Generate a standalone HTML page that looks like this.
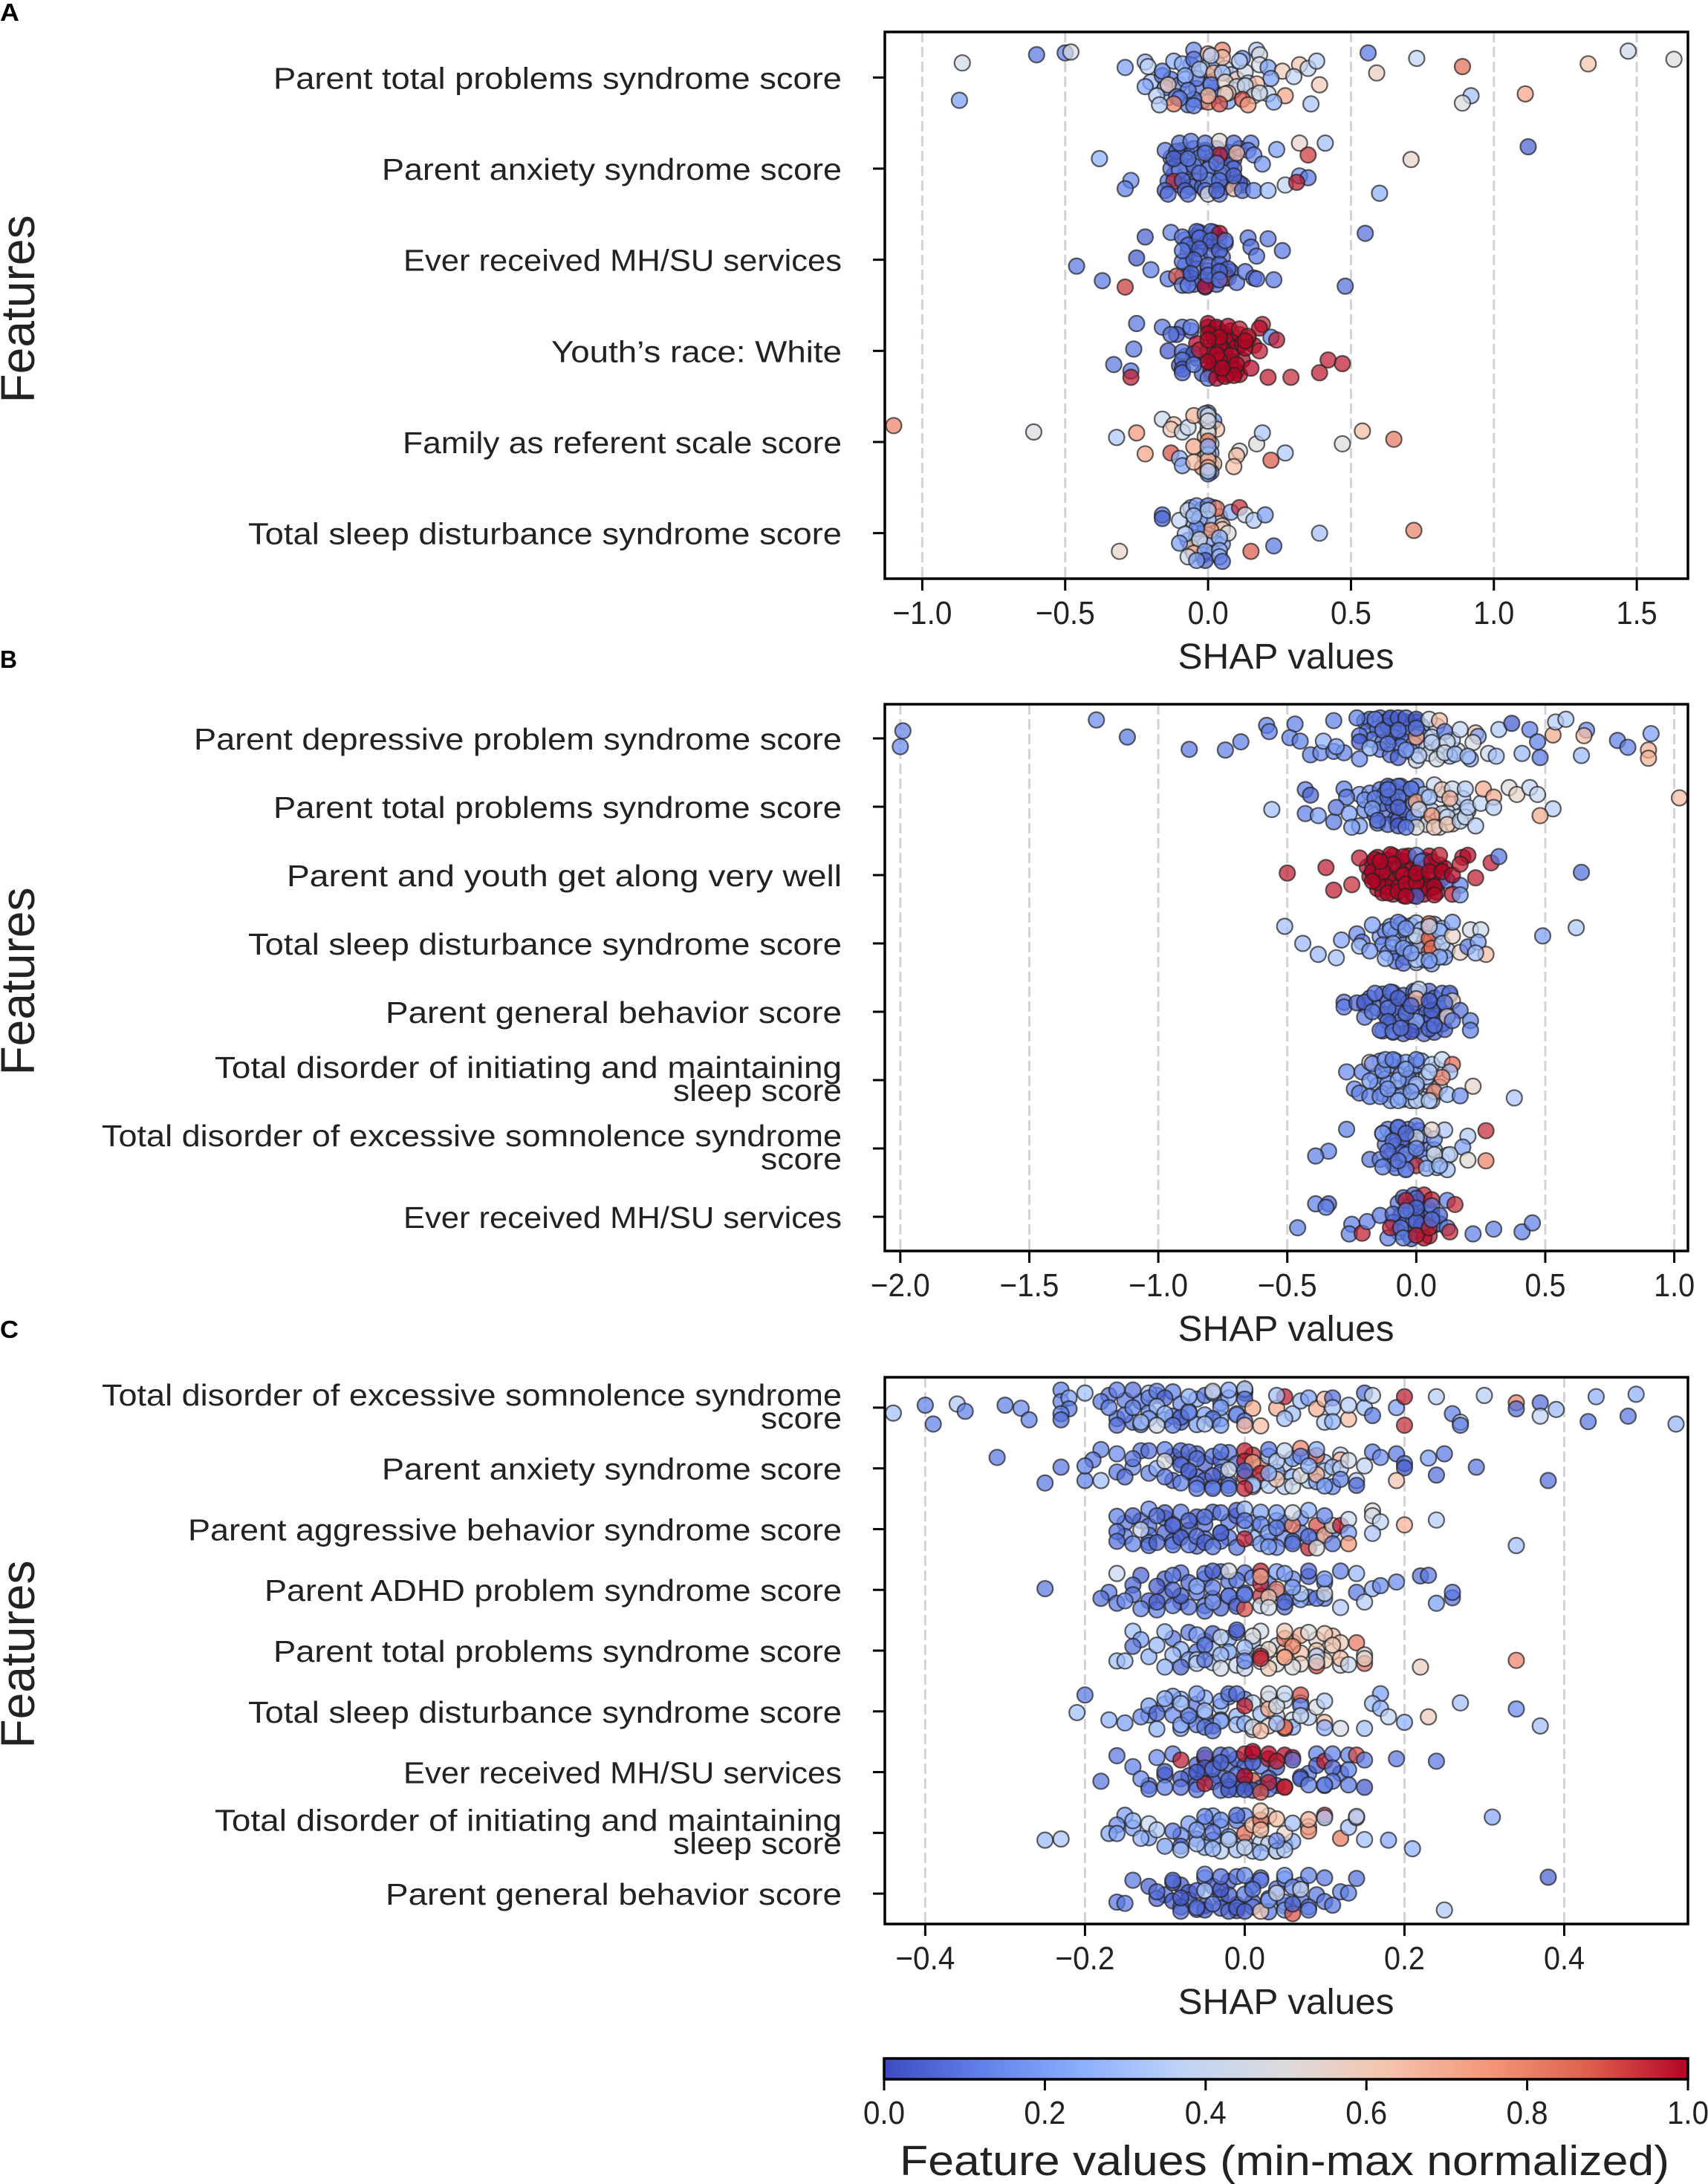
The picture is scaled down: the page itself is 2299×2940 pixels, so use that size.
<!DOCTYPE html>
<html lang="en">
<head>
<meta charset="utf-8">
<title>SHAP value strip plots</title>
<style>
html,body{margin:0;padding:0;background:#fff;}
svg{display:block;font-family:"Liberation Sans",sans-serif;}
text{fill:#222;}
</style>
</head>
<body>
<svg id="chart" xmlns="http://www.w3.org/2000/svg" width="2299" height="2940" viewBox="0 0 2299 2940">
  <rect x="0" y="0" width="2299" height="2940" fill="#ffffff"/>
  <text x="0" y="28" font-size="33" font-weight="bold" textLength="26" lengthAdjust="spacingAndGlyphs" style="fill:#000">A</text>
  <text x="0" y="899" font-size="33" font-weight="bold" textLength="23" lengthAdjust="spacingAndGlyphs" style="fill:#000">B</text>
  <text x="0" y="1801" font-size="33" font-weight="bold" textLength="25" lengthAdjust="spacingAndGlyphs" style="fill:#000">C</text>
</svg>
<script>
// ---------- Panel A data ----------
const categoriesA = ["Parent total problems syndrome score","Parent anxiety syndrome score","Ever received MH/SU services","Youth\u2019s race: White","Family as referent scale score","Total sleep disturbance syndrome score"];
const ticksA = [-1,-0.5,0,0.5,1,1.5];
const domainA = [-1.131,1.679];
const shapA = [
[-.86,-.6,-.5,-.48,-.87,-.29,-.22,-.21,-.16,-.12,-.09,-.05,0,.05,.05,.01,-.05,.12,.11,.17,.18,.18,.21,.26,.32,.35,.38,.3,.22,.39,.17,-.22,-.15,-.14,-.18,-.08,-.03,.02,.05,.01,.06,.1,.13,.07,.06,.16,.21,.18,.27,.12,.14,0,.04,0,-.05,-.07,-.11,-.1,-.12,-.17,-.05,.23,.36,.59,.56,.73,.89,1.33,1.47,1.63,.92,.89,1.11],
[-.38,-.27,-.29,-.15,-.11,-.1,-.06,-.01,.04,.04,.09,.15,.14,.1,.24,.32,.41,.35,.16,.19,-.01,-.13,-.1,-.05,0,.09,.05,-.12,-.09,0,.04,.11,.32,.35,.27,.31,.71,1.12,.6,-.15,-.14,-.08,-.07,-.01,0,.04,.03,.09,.12,.16,.21,-.03,-.12,-.07,.03,.09],
[-.22,-.13,-.09,-.04,.01,.04,.14,.21,.15,.26,.17,.55,-.25,-.46,-.37,-.29,-.2,-.14,-.11,-.09,-.07,-.01,.06,.1,.13,.16,.17,.23,.48,-.07,-.03,.01,-.03,.04,-.09,-.05,0,.04,.07,-.06,0,.04,-.09,.06,.04],
[-.25,-.16,-.09,-.06,-.11,-.13,0,.03,.07,.11,.19,.18,.14,.22,.24,0,-.04,.04,.13,.18,-.26,-.14,-.09,-.05,0,.08,-.09,.04,.1,.15,.42,.47,.39,.21,.29,-.33,-.27,-.27,-.09,-.09,-.05,.01,0,.03,.06,.09,-.03,.04,.03,0,.05,.13,0],
[-1.1,-.61,-.32,-.25,-.22,-.16,-.12,-.13,-.13,-.09,-.07,-.05,-.01,.02,.03,0,0,0,-.05,-.1,-.09,-.05,0,0,0,0,.11,.1,.09,.17,.19,.27,.22,.47,.54,.65,0,0,0],
[-.16,-.16,-.1,-.07,-.04,0,.03,.08,.11,.13,.16,.2,0,-.03,.05,.07,.01,-.04,-.08,-.03,.04,-.1,.23,.15,.39,.72,-.31,-.05,-.07,-.01,.04,.04,-.01,.05,-.04,0,-.05]
];
const jitterA = [
[-.16,-.25,-.27,-.28,.25,-.11,-.17,-.12,-.07,-.18,-.15,-.3,-.26,-.3,-.22,-.24,-.2,-.21,-.18,-.3,-.25,-.14,-.11,-.07,-.14,-.1,-.18,-.01,.01,.08,.07,.1,.11,.08,.2,-.02,-.09,-.05,-.05,.08,.05,.1,.09,.17,.18,.2,.18,.17,.2,.24,.3,.27,.29,.2,.24,.14,.21,.23,.29,.3,.31,.27,.29,-.05,-.27,-.21,-.12,-.15,-.29,-.2,.2,.28,.18],
[-.11,.13,.22,-.2,-.19,-.28,-.3,-.28,-.3,-.15,-.28,-.28,-.2,-.17,-.21,-.28,-.28,-.15,-.15,-.05,-.17,0,.02,-.03,.01,0,.04,.14,.13,.13,.13,.16,.08,.1,.18,.15,-.1,-.24,.27,.24,.28,.24,.28,.24,.28,.28,.24,.22,.24,.24,.24,.05,-.11,-.11,-.06,.08],
[-.25,-.3,-.25,-.31,-.31,-.29,-.24,-.23,-.14,-.1,-.04,-.29,-.02,.07,.23,.3,.11,.21,.18,.28,.28,.29,.2,.25,.13,.2,.21,.22,.29,-.16,-.24,-.21,-.12,-.1,.02,0,.06,.05,.1,.15,.17,.13,-.1,-.21,.22],
[-.3,-.26,-.26,-.26,-.18,-.18,-.3,-.26,-.27,-.24,-.29,-.25,-.16,-.15,-.12,-.19,-.08,-.07,-.03,0,-.02,0,.01,.03,0,.05,.1,.1,.15,.19,.1,.14,.24,.29,.29,.15,.22,.29,.2,.24,.15,.22,.3,.3,.28,.27,-.01,-.15,.04,.12,.19,-.11,-.12],
[-.18,-.11,-.05,-.1,.13,-.25,-.19,.12,-.14,-.11,-.16,-.29,-.31,-.23,-.14,-.15,-.1,-.01,.05,.18,.26,.22,.14,.2,.28,.32,.1,.15,.27,.02,-.1,.12,.2,.02,-.12,-.03,-.29,-.23,.05],
[-.2,-.16,-.14,-.25,-.3,-.3,-.27,-.23,-.28,-.2,-.14,-.2,-.15,-.16,-.04,0,-.03,-.05,.01,.07,.05,.11,.14,.2,0,-.03,.2,.22,.26,.2,.19,.26,.3,.31,.3,-.25,-.19]
];
const featureA = [
[.45,.1,.12,.47,.2,.2,.27,.38,.13,.25,.25,.15,.7,.8,.65,.35,.1,.15,.35,.33,.47,.47,.2,.6,.62,.38,.35,.38,.2,.6,.65,.22,.15,.6,.35,.25,.35,.68,.3,.1,.55,.42,.42,.65,.55,.5,.4,.42,.72,.9,.75,.8,.9,.65,.1,.12,.15,.1,.8,.33,.12,.25,.32,.58,.1,.38,.85,.62,.43,.5,.3,.48,.72],
[.25,.15,.12,.12,.05,.1,.1,.1,.52,.97,.08,.12,.1,.65,.2,.55,.3,.93,.15,.17,.1,.08,.15,.08,.15,.08,.1,.95,.05,.18,.08,.05,.18,.1,.38,.97,.55,.05,.25,.05,.08,.05,.1,.1,.47,.1,.05,.65,.08,.15,.28,.08,.05,.1,.1,.05],
[.05,.12,.12,.05,.08,1,.1,.1,.08,.1,.1,.08,.03,.1,.1,.93,.12,.1,.88,.1,.1,1,.93,.1,.1,.05,.1,.1,.08,.08,.08,.05,.05,.05,.1,.05,.08,.05,.05,.05,.08,.05,.1,.1,.08],
[.1,.1,.08,.15,.03,.08,1,1,1,.97,.95,1,.97,.12,.97,1,1,1,1,.97,.1,.03,.08,.03,1,1,.1,1,1,1,.97,.97,.97,.97,.95,.1,.1,.97,.03,.08,.1,1,.12,1,1,1,.97,1,1,1,1,1,1],
[.8,.48,.33,.75,.72,.42,.62,.9,.6,.42,.42,.68,.3,.2,.62,.47,.5,.82,.72,.25,.22,.65,.45,.72,.68,.35,.48,.65,.63,.5,.32,.33,.88,.48,.65,.82,.47,.47,.25],
[.1,.05,.38,.42,.2,.1,.82,.25,.95,.42,.33,.2,.32,.25,.6,.48,.75,.15,.3,.45,.25,.2,.1,.88,.3,.8,.55,.7,.42,.25,.25,.28,.05,.08,.2,.35,.3]
];
const denseShapA = [
[-.2,-.16,-.13,-.1,-.08,-.06,-.04,-.02,0,.02,.03,.06,.08,.1,.13,.15,-.14,-.07,-.02,.03,.09,.14,-.04,.01,.07],
[-.13,-.11,-.09,-.07,-.05,-.03,-.01,.01,.03,.05,.07,.09,.11,-.12,-.08,-.04,0,.04,.08,.12,-.1,-.06,-.02,.02,.06,.1,-.14,-.07,.01,.08],
[-.08,-.06,-.04,-.02,0,.02,.04,.06,-.07,-.03,.01,.05,-.08,-.04,0,.04,.08,-.06,-.02,.02,.06,-.09,-.05,-.01,.03,.07,-.03,.02],
[0,.01,.02,.03,.04,.05,.06,.07,.08,.09,.1,.11,.12,.14,.16,0,.02,.04,.06,.08,.1,.12,.01,.03,.05,.07,.09,.11,-.06,-.08,-.04,-.1,-.02],
[0,-.01,.01,0,-.01,.01,0,.01,-.01,0,.01,-.02,.02,0,.01,0],
[-.06,-.04,-.02,0,.02,.04,-.05,-.03,-.01,.01,.03,.05,-.07,-.04,-.01,.02,.05,-.06,-.02,.02]
];
const denseJitterA = [
[.05,-.02,.02,.08,.02,-.14,.12,-.08,-.12,.15,-.16,-.1,-.03,.02,-.06,.12,.22,.3,.26,.2,.14,.06,.01,.06,.26],
[-.12,-.05,-.2,-.15,-.22,-.12,-.2,-.08,-.22,-.14,-.18,-.1,-.22,.07,.08,.14,.06,.07,.16,.18,.18,.2,.2,.18,.2,.14,.14,-.02,-.04,-.04],
[-.22,-.18,-.26,-.2,-.24,-.17,-.23,-.18,-.08,-.04,-.08,-.03,.06,.1,.12,.12,.13,.2,.24,.22,.16,.18,.27,.3,.27,.2,-.3,-.3],
[-.26,-.2,-.14,-.24,-.1,-.2,-.16,-.08,-.22,-.14,-.04,-.18,-.08,-.14,-.06,.06,.1,.16,.02,.12,.22,.1,.26,.24,.08,.26,.2,.26,-.22,.06,.08,.16,.25],
[-.32,-.26,-.2,-.12,-.06,.02,.08,.12,.17,.22,.25,.28,.24,.3,.33,.35],
[-.28,-.22,-.26,-.2,-.28,-.18,-.12,-.08,-.05,-.1,-.12,-.08,.08,.05,.12,.1,.12,.16,.24,.22]
];
const denseFeatureA = [
[.3,.15,.1,.15,.25,.12,.1,.15,.35,.1,.3,.4,.35,.6,.45,.4,.3,.12,.1,.15,.55,.35,.1,.15,.2],
[.08,.05,.1,.05,.08,.12,.05,.08,.05,.1,.05,.08,.12,.05,.08,.05,.1,.05,.08,.1,.05,.08,.05,.1,.05,.08,.1,.05,.08,.05],
[.05,.08,.05,.1,.05,.08,.05,.08,.05,.08,.05,.1,.05,.08,.05,.08,.1,.05,.08,.05,.1,.05,.08,.05,.05,.1,.08,.05],
[1,1,1,1,1,1,1,1,1,1,1,1,1,1,1,1,1,1,1,1,1,1,1,1,1,1,1,1,.05,.05,.05,.05,.05],
[.1,.4,.3,.5,.6,.45,.7,.3,.65,.55,.7,.8,.6,.2,.12,.1],
[.25,.3,.2,.15,.35,.8,.3,.3,.1,.25,.4,.6,.2,.15,.25,.3,.22,.65,.1,.15]
];

// ---------- Panel B data ----------
const categoriesB = ["Parent depressive problem syndrome score","Parent total problems syndrome score","Parent and youth get along very well","Total sleep disturbance syndrome score","Parent general behavior score","Total disorder of initiating and maintaining|sleep score","Total disorder of excessive somnolence syndrome|score","Ever received MH/SU services"];
const ticksB = [-2,-1.5,-1,-0.5,0,0.5,1];
const domainB = [-2.06,1.053];
const shapB = [
[-1.99,-2,-1.24,-1.12,-.88,-.74,-.68,-.58,-.57,-.47,-.49,-.45,-.41,-.37,-.36,-.32,-.32,-.28,-.31,-.23,-.22,-.22,-.22,-.16,-.18,-.13,-.11,-.1,-.07,-.04,0,0,0,-.07,-.07,0,.01,-.04,.05,.09,.11,.06,.12,.08,.11,.17,.23,.24,.22,.15,.21,.2,.28,.31,.32,.37,.44,.47,.48,.41,.53,.54,.58,.66,.65,.64,.78,.82,.91,.9,.9],
[-.43,-.41,-.28,-.27,-.56,-.43,-.38,-.32,-.31,-.26,-.22,-.25,-.2,-.16,-.17,-.15,-.11,-.07,-.02,-.11,-.07,-.07,-.07,-.01,0,.01,0,.06,.07,.1,.14,.19,.13,.05,.12,.07,.12,.17,.19,.2,.25,.23,.26,.3,.3,.36,.39,.44,.47,.53,.48,1.02,-.11,-.04],
[-.5,-.35,-.25,-.32,-.22,-.16,-.17,-.15,-.11,-.07,-.1,-.05,-.09,-.13,-.05,0,.02,-.04,0,0,.06,.09,.18,.2,.29,.32,.23,.12,.17,.07,.14,.17,0,.05,.1,.64,-.04,.07,-.14,-.17,.14,.17],
[-.51,-.44,-.38,-.31,-.29,-.23,-.21,-.22,-.18,-.17,-.1,-.07,-.09,-.05,-.12,-.05,0,0,.05,.05,.06,.09,.1,.14,.14,.21,.25,.17,.2,.24,.27,.23,.09,.05,.49,.62,-.04,-.02,.05],
[-.28,-.28,-.23,-.2,-.16,-.1,0,.01,0,.1,.13,.14,.11,.17,.21,.21,.12,.06,0,-.04,-.11,-.2,-.17,-.11,-.14,-.09,-.02,.05,.07,.14,-.06,.05,-.07,-.02],
[-.27,-.21,-.18,-.17,-.13,-.18,-.24,-.22,-.18,-.14,-.12,-.09,-.07,-.07,0,0,0,.06,.1,.14,.13,.1,.07,.05,.22,.12,.17,.38,.05,-.04,-.02,-.11],
[-.27,-.34,-.39,-.18,-.14,-.13,-.07,0,0,-.04,-.09,.07,.11,.2,.06,.18,.27,.2,.27,.13,.07,.12,0,-.04,-.11,-.13,-.04,.04,-.07,0,.09],
[-.39,-.34,-.35,-.46,-.25,-.26,-.21,-.19,-.14,-.09,-.11,-.1,-.06,-.05,0,-.04,.06,.06,.12,.15,0,.09,.12,.13,.22,.3,.41,.45,.03,0,.05,0,-.04,.06]
];
const jitterB = [
[-.11,.12,-.27,-.02,.16,.17,.05,-.19,-.1,-.21,-.01,.04,.24,.21,.04,-.26,.19,.21,.12,-.3,.3,-.04,.05,-.28,.14,-.12,.08,-.3,-.3,-.3,-.28,-.02,-.15,-.12,.28,.32,.25,.17,-.28,-.26,-.1,.06,.05,.3,.21,-.13,-.08,-.03,.06,.23,.3,.26,.22,.26,-.13,-.22,-.13,.05,.28,.22,-.05,-.24,-.28,-.12,-.04,.25,.03,.13,-.07,.17,.29],
[-.25,-.17,-.26,-.14,.04,.1,.13,.22,.01,.1,.28,.3,-.1,-.12,.03,.2,-.3,-.3,-.26,-.14,-.14,.01,.28,.15,-.07,.04,.3,.13,-.32,-.25,-.26,-.26,-.12,-.14,.15,.3,.26,.21,.15,.01,-.05,.28,-.26,-.14,.01,-.28,-.18,-.28,-.18,.03,.13,-.13,-.25,.3],
[-.03,-.11,.14,.22,-.25,-.23,-.05,.11,.26,.24,-.3,-.27,-.16,-.05,0,-.29,-.2,.13,.11,-.03,-.2,-.29,-.26,-.29,-.18,-.27,.04,.08,.15,.17,.28,.29,.31,-.05,-.05,-.04,.31,.29,-.2,.09,0,-.16],
[-.25,0,.16,.21,-.05,-.14,-.02,.04,.11,-.27,-.2,-.31,0,.07,.22,.29,-.11,.24,-.29,-.07,.07,-.18,0,-.11,-.31,-.2,-.2,.13,.05,-.02,.16,.14,.2,.25,-.11,-.23,-.22,.14,-.25],
[-.14,-.07,-.13,-.14,-.27,-.29,-.29,-.33,-.19,-.27,-.27,-.16,-.13,-.02,.13,.27,.07,-.02,.14,.02,-.05,.08,0,.14,.27,.29,.29,.25,.2,.13,.24,-.16,-.2,-.09],
[-.12,-.12,-.26,-.24,-.14,.01,.13,.19,.24,.24,-.3,-.3,0,.3,-.3,.06,.3,-.23,-.3,-.23,-.12,-.04,.17,-.12,.09,.21,.23,.26,.3,-.16,.17,.13],
[-.28,.04,.11,.16,.16,-.22,-.31,-.33,-.16,-.22,-.11,-.14,-.27,-.18,-.27,-.02,-.26,.17,.18,.09,.09,.31,.25,.09,.04,.27,.31,.29,.18,0,.25],
[-.19,-.19,-.14,.16,.11,.25,.24,.07,-.02,-.04,.31,.16,.16,.31,-.27,-.24,-.25,-.16,-.24,-.18,.07,-.02,.16,.22,.25,.18,.22,.09,.31,.27,.16,-.13,-.09,.04]
];
const featureB = [
[.12,.15,.15,.1,.1,.12,.12,.12,.12,.12,.12,.12,.12,.15,.25,.12,.12,.12,.2,.12,.15,.1,.03,.12,.25,.08,.1,.05,.05,.05,.02,.75,.1,.1,.05,.4,.35,.2,.42,.65,.1,.35,.42,.45,.42,.38,.6,.2,.48,.3,.25,.3,.42,.3,.33,.03,.12,.12,.1,.28,.7,.35,.33,.15,.65,.28,.12,.12,.2,.68,.68],
[.12,.05,.12,.1,.3,.12,.2,.1,.08,.2,.2,.2,.18,.12,.2,.08,.05,.08,.1,.05,.08,.05,.03,.15,.75,.4,.5,.75,.4,.6,.4,.35,.68,.3,.4,.6,.6,.35,.42,.35,.38,.35,.7,.7,.35,.5,.55,.38,.4,.35,.7,.65,.1,.1],
[.97,.97,.95,.97,.97,1,1,1,1,1,1,1,1,1,1,.1,.1,1,1,1,1,.97,.97,1,.97,.1,.97,.1,.12,1,.97,.2,.05,1,1,.08,1,1,1,1,1,.97],
[.3,.28,.28,.3,.22,.15,.1,.3,.2,.2,.2,.15,.2,.2,.25,.08,.38,.33,.85,.85,.85,.25,.35,.55,.2,.45,.42,.55,.1,.2,.65,.3,.25,.2,.2,.33,.2,.2,.4],
[.1,.1,.05,.05,.08,.08,.2,.4,.65,.08,.1,.55,.1,.08,.12,.12,.55,.05,.25,.08,.08,.1,.1,.05,.1,.1,.03,.05,.08,.1,.08,.05,.05,.05],
[.15,.12,.55,.15,.15,.2,.15,.12,.12,.15,.2,.12,.22,.25,.12,.3,.35,.35,.38,.85,.3,.8,.8,.33,.55,.3,.15,.32,.35,.2,.2,.2],
[.12,.12,.12,.1,.12,.2,.08,.1,.45,.08,.08,.15,.32,.33,.55,.2,.95,.52,.8,.38,.45,.3,.95,.15,.08,.12,.12,.25,.1,.15,.28],
[.12,.05,.12,.12,.12,.12,.97,.12,.1,.05,.12,.97,.08,.12,.05,.97,.97,.1,.12,.95,.05,.05,.12,.95,.12,.12,.12,.12,1,.97,.97,.05,.1,.08]
];
const denseShapB = [
[-.2,-.18,-.16,-.14,-.12,-.1,-.08,-.06,-.04,-.02,0,.02,-.19,-.15,-.11,-.07,-.03,.01,-.17,-.13,-.09,-.05,-.01,-.14,-.1,-.06,-.02,.04,.08,.12,.16,.06,.1,.14,.05,.09,.13],
[-.22,-.18,-.14,-.12,-.1,-.08,-.06,-.04,-.02,0,-.2,-.16,-.12,-.08,-.04,-.15,-.11,-.07,-.03,.01,-.13,-.09,-.05,-.01,.03,.06,.1,.14,.18,.08,.12,.16,.04,.09,.14,.2,.1],
[-.19,-.17,-.15,-.13,-.11,-.09,-.07,-.05,-.03,-.01,.01,.03,.05,.07,.09,.11,-.18,-.16,-.14,-.12,-.1,-.08,-.06,-.04,-.02,0,.02,.04,.06,.08,.1,-.15,-.13,-.11,-.09,-.07,-.05,-.03,-.01,.01,.03,.05,.08],
[-.14,-.12,-.1,-.08,-.06,-.04,-.02,0,.02,.04,.07,.1,-.13,-.09,-.05,-.01,.03,.08,-.11,-.07,-.03,.01,.05,.09,.12,-.08,-.04,0,.03,.06,.11],
[-.2,-.18,-.15,-.13,-.11,-.09,-.07,-.05,-.03,-.01,.01,.03,.05,.07,.09,.11,.13,-.12,-.08,-.04,0,.04,.08,.12,-.1,-.06,-.02,.02,.06,.1,-.13,-.09,-.05,-.01,.03,.07,.11],
[-.16,-.14,-.12,-.1,-.08,-.06,-.04,-.02,0,.02,-.15,-.11,-.07,-.03,.01,.05,-.13,-.09,-.05,-.01,.03,.07,.09,-.1,-.06,-.02,.02,.06,-.03,0,.04,.08],
[-.13,-.11,-.09,-.07,-.05,-.03,-.01,.01,-.12,-.08,-.04,0,.03,-.1,-.06,-.02,.02,.05,-.09,-.05,-.01,.03,-.08,-.04,.07,.1,.04,.08,.12],
[-.07,-.05,-.03,-.01,.01,.03,.05,-.06,-.02,.02,.06,-.09,-.05,-.01,.03,.07,-.07,-.03,.01,.05,.09,-.02,.02]
];
const denseJitterB = [
[-.25,-.28,-.22,-.3,-.24,-.28,-.22,-.26,-.24,-.2,-.24,-.18,-.1,-.14,-.18,-.08,-.14,-.06,.02,.06,-.02,.04,.08,.16,.24,.12,.2,.14,-.18,.1,.18,-.02,.24,.02,.22,.12,.26],
[-.18,-.2,-.25,-.2,-.28,-.22,-.3,-.2,-.26,-.3,.05,.12,.08,.18,.1,.24,.26,.2,.22,.18,-.05,-.02,.04,-.05,-.18,.06,-.18,-.05,-.12,.2,.08,.15,.26,.3,.25,.06,.1],
[-.12,-.18,-.26,-.12,-.22,-.28,-.1,-.2,-.28,-.12,-.1,-.22,-.28,-.12,-.15,-.1,.02,.06,-.02,.1,.02,.08,-.02,.14,.02,.1,.04,.14,.06,.14,.05,.2,.26,.18,.28,.18,.3,.2,.3,.22,.28,.2,.25],
[-.1,-.18,-.25,-.14,-.28,-.18,-.26,-.3,-.2,-.14,-.28,-.22,.02,.06,.02,-.04,-.02,.04,.14,.14,.1,.08,.12,.12,.1,.26,.2,.28,.24,.3,.2],
[-.1,-.2,-.05,-.26,-.14,-.28,-.08,-.24,-.14,-.3,-.22,-.12,-.3,-.2,-.06,-.12,-.24,.04,-.02,.06,.08,.02,.06,.04,.18,.14,.2,.16,.1,.18,.28,.3,.32,.26,.32,.3,.26],
[-.06,-.28,-.02,-.22,-.28,-.08,-.26,-.1,-.22,-.28,.08,.05,.12,.02,.02,.1,.2,.22,.28,.16,.24,.2,.1,.3,.24,.3,.28,.3,-.02,.1,-.05,-.16],
[-.22,-.28,-.2,-.3,-.14,-.28,-.2,-.26,-.06,-.04,-.12,-.06,-.2,.1,.06,.04,.08,.02,.22,.16,.18,.14,.28,.3,.02,.18,.22,.28,.1],
[-.2,-.28,-.14,-.32,-.22,-.32,-.1,-.02,-.08,.02,-.06,.08,.12,.05,.1,.12,.22,.26,.2,.28,.1,.32,.12]
];
const denseFeatureB = [
[.12,.1,.08,.05,.05,.03,.05,.03,.03,.05,.05,.1,.08,.1,.05,.05,.08,.15,.1,.15,.05,.05,.25,.1,.08,.1,.15,.35,.4,.45,.4,.35,.4,.35,.45,.4,.3],
[.2,.15,.1,.08,.05,.08,.05,.1,.08,.1,.15,.1,.08,.05,.1,.1,.05,.05,.1,.2,.08,.05,.08,.15,.3,.35,.3,.35,.35,.4,.42,.38,.5,.45,.6,.35,.4],
[1,1,1,1,1,1,1,1,1,1,1,1,1,1,1,1,1,1,1,1,1,1,1,1,1,1,1,1,1,1,1,1,1,1,1,1,1,1,1,1,1,1,1],
[.2,.15,.2,.15,.1,.2,.12,.3,.3,.85,.25,.3,.12,.2,.15,.35,.85,.3,.2,.15,.2,.3,.85,.55,.35,.1,.15,.3,.25,.2,.2],
[.05,.08,.05,.05,.08,.05,.05,.08,.05,.05,.08,.05,.05,.08,.05,.05,.08,.05,.05,.08,.05,.05,.08,.05,.05,.08,.05,.05,.08,.05,.05,.08,.05,.05,.08,.05,.05],
[.2,.15,.2,.12,.15,.2,.2,.25,.15,.25,.18,.2,.22,.25,.3,.3,.15,.15,.2,.3,.3,.3,.35,.2,.2,.3,.35,.3,.1,.3,.35,.35],
[.15,.1,.1,.08,.05,.08,.1,.12,.1,.08,.05,.1,.15,.08,.05,.1,.12,.15,.1,.08,.12,.2,.1,.12,.3,.35,.3,.3,.3],
[.1,.05,.1,.05,.05,.97,.05,.08,.05,.05,.1,.1,.05,.08,.97,.1,.05,.1,.05,.97,.1,.05,.05]
];

// ---------- Panel C data ----------
const categoriesC = ["Total disorder of excessive somnolence syndrome|score","Parent anxiety syndrome score","Parent aggressive behavior syndrome score","Parent ADHD problem syndrome score","Parent total problems syndrome score","Total sleep disturbance syndrome score","Ever received MH/SU services","Total disorder of initiating and maintaining|sleep score","Parent general behavior score"];
const ticksC = [-0.4,-0.2,0,0.2,0.4];
const domainC = [-0.4506,0.5549];
const shapC = [
[-.44,-.4,-.39,-.36,-.35,-.3,-.28,-.27,-.23,-.23,-.2,-.22,-.22,-.23,-.23,-.18,-.17,-.16,-.14,-.12,-.15,-.16,-.14,-.12,-.11,-.1,-.11,-.1,-.12,-.13,-.11,-.08,-.07,-.09,-.07,-.04,-.04,-.02,0,0,0,-.03,-.04,-.05,-.03,.01,0,0,.04,.05,.04,.05,.07,.08,.09,.1,.11,.11,.11,.13,.13,.15,.16,.15,.16,.19,.2,.2,.24,.26,.27,.27,.3,.34,.34,.37,.37,.39,.43,.44,.48,.49,.54],
[-.31,-.23,-.25,-.2,-.18,-.18,-.16,-.19,-.2,-.16,-.15,-.13,-.12,-.1,-.14,-.11,-.1,-.1,-.08,-.07,-.06,-.08,-.07,-.08,-.06,-.04,-.03,-.02,-.04,-.02,0,0,.01,0,.02,.01,0,.03,.04,.05,.07,.04,.06,.07,.07,.09,.09,.09,.1,.12,.11,.12,.12,.13,.14,.14,.15,.16,.17,.19,.2,.2,.19,.23,.25,.24,.29,.38,.03,.08],
[-.16,-.16,-.16,-.14,-.14,-.12,-.13,-.1,-.11,-.12,-.11,-.09,-.08,-.07,-.07,-.06,-.05,-.04,-.05,-.03,-.01,-.03,0,0,0,.02,.03,.03,.04,.06,.06,.06,.08,.08,.09,.1,.11,.1,.12,.13,.13,.13,.11,.08,.16,.16,.17,.16,.2,.24,.34,.04,.09,-.09,0],
[-.25,-.16,-.17,-.18,-.16,-.13,-.14,-.14,-.15,-.13,-.11,-.11,-.11,-.09,-.08,-.06,-.05,-.05,-.04,-.04,-.02,-.01,-.01,-.02,.02,.02,.02,.04,.03,0,.03,.05,.05,.07,.08,.06,.09,.1,.1,.12,.12,.14,.14,.16,.15,.17,.19,.22,.23,.24,.26,.26,-.09,-.04,0],
[-.14,-.1,-.13,-.14,-.11,-.16,-.15,-.09,-.06,-.05,-.03,-.01,.01,0,-.03,.02,.05,.05,.06,.08,.1,.05,.12,.11,.09,.12,.14,.15,-.06,-.1,-.08,-.06,-.03,0,.03,.06,.09,.09,.13,.15,.15,.22,.34,.05,.02,0,-.05],
[-.2,-.21,-.17,-.15,-.13,-.12,-.11,-.11,-.09,-.1,-.08,-.08,-.07,-.06,-.05,-.05,-.03,-.02,-.03,-.01,0,0,.01,.03,.03,.04,.05,.07,.07,.09,.1,.05,.05,.1,.1,.12,.15,.17,.16,.17,.18,.2,.23,.27,.34,.37,.02,.07,-.04,.04],
[-.16,-.18,-.14,-.13,-.12,-.11,-.1,-.1,-.09,-.08,-.08,-.08,-.06,-.05,-.05,-.05,-.05,-.04,-.02,0,-.02,0,.01,0,.01,.03,.04,.03,.05,.02,.06,.07,.08,.09,.09,.1,.11,.11,.11,.1,.13,.14,.15,.13,.13,.15,.19,.24,-.03,-.06,-.02],
[-.15,-.14,-.16,-.17,-.16,-.25,-.23,-.13,-.12,-.11,-.09,-.1,-.08,-.06,-.06,-.05,-.04,-.03,-.01,-.04,-.02,0,.01,.02,.02,.02,.04,.05,.04,.05,.04,.06,.08,.08,.1,.1,.12,.13,.14,.14,.15,.18,.21,.31,0,.02,-.08],
[-.14,-.16,-.15,-.11,-.09,-.09,-.08,-.08,-.06,-.05,-.05,-.05,-.03,-.02,-.01,0,0,.02,.03,.04,.05,.05,.06,.06,.06,.07,.08,.08,.1,.1,.11,.12,.13,.14,.38,.25,.02,-.03,-.06,0,-.04,.01]
];
const jitterC = [
[.09,-.04,.27,-.06,.06,-.04,.01,.2,-.29,-.1,-.24,-.16,.02,.1,.2,-.1,0,-.29,-.29,-.24,.12,.29,0,-.16,-.27,-.16,-.02,.1,.18,.24,.29,.16,.08,.29,-.18,-.24,-.27,-.29,-.29,-.31,-.14,0,.18,.27,.29,.01,.22,.29,.01,-.18,-.2,.18,-.11,-.16,.02,-.14,-.16,0,.23,.19,-.04,0,.13,-.24,-.2,0,-.18,.29,-.18,.1,.24,.29,-.2,-.08,.02,-.08,.14,.03,.23,-.18,.14,-.22,.27],
[-.18,-.02,.24,.2,.2,-.31,-.24,-.14,-.04,.06,.14,-.29,-.29,-.31,-.16,0,-.12,.14,-.29,-.27,-.16,-.06,.04,.24,.33,.12,-.27,.02,.33,.33,-.29,-.12,-.1,.04,.08,.27,.33,-.31,-.12,-.29,-.33,.18,.29,.12,-.2,-.21,-.31,.1,.29,-.14,-.02,0,.18,-.13,.2,.28,-.04,-.27,-.18,-.24,-.08,-.01,.2,-.17,-.24,.11,-.02,.2,.08,-.04],
[-.21,.04,.2,.24,-.22,-.33,.01,-.27,-.22,.27,.22,.26,.14,-.14,.26,.12,.22,.29,-.2,-.27,-.31,.06,-.02,-.33,.16,-.08,.06,.29,-.27,-.06,.24,-.27,.31,-.31,-.06,.1,-.06,-.22,-.06,-.16,.06,.24,.24,.12,-.3,-.22,-.12,.07,-.07,-.15,.27,-.02,.31,-.06,-.14],
[-.02,-.27,.04,.14,.22,-.24,-.08,.08,.18,.31,-.06,.33,.2,-.24,.1,-.06,-.27,.35,-.31,.2,.1,-.16,.27,-.31,-.31,-.1,-.22,-.01,.12,.31,.29,.2,-.27,.06,-.31,-.04,.14,.06,-.18,-.31,.29,-.27,.04,-.02,.2,-.07,-.13,-.23,-.24,.22,.13,.04,0,-.04,.08],
[-.32,-.31,-.18,-.07,-.09,.17,.17,.07,-.26,-.09,-.22,-.34,-.24,-.05,.07,.09,-.2,-.32,-.07,-.3,-.28,.11,-.13,-.09,.09,.13,-.13,.07,.15,.27,.27,.21,.29,.29,.29,.27,.25,.19,.23,.21,.13,.27,.16,.11,.13,.17,.15],
[-.27,.02,.14,.19,.09,-.09,.03,.29,-.25,-.21,.22,-.13,.07,-.29,-.01,.26,-.17,-.29,.16,-.29,-.09,.2,.26,-.04,-.29,-.09,-.29,-.27,-.09,-.07,-.17,.28,.26,.18,.27,.28,.28,-.29,-.13,-.05,.09,.18,.09,-.14,-.04,.24,.32,.07,.32,.2],
[-.27,.15,-.09,.11,.28,-.24,-.01,.25,-.3,-.2,.11,.25,.29,-.24,-.28,-.07,.19,-.05,-.28,-.3,.29,.07,-.16,.29,-.34,-.3,-.18,.17,.25,.33,-.2,.11,.21,-.3,-.11,-.18,-.3,-.07,.15,.21,-.28,-.28,-.2,-.04,.21,.25,-.22,-.18,-.16,0,.13],
[-.29,-.2,-.13,.01,.01,.12,.1,.09,-.15,-.05,-.03,.22,.22,.18,-.05,-.27,.26,-.21,-.29,-.01,.11,.01,-.13,-.21,-.05,-.36,-.23,.01,.3,.28,.13,-.16,-.03,-.22,-.29,-.25,.09,-.09,-.25,-.27,.11,.12,.26,-.26,.24,.32,.28],
[-.22,.14,.16,-.03,-.18,-.22,.29,.07,-.05,-.32,-.05,.27,-.07,.29,.23,-.3,.01,.29,.11,-.01,.27,-.3,.33,.17,-.11,-.07,-.3,.27,-.26,.13,.19,-.03,-.01,-.25,-.27,.27,-.22,-.28,.23,.29,.17,-.07]
];
const featureC = [
[.3,.12,.12,.33,.12,.12,.15,.12,.12,.12,.3,.2,.1,.12,.08,.1,.12,.12,.08,.33,.1,.08,.12,.12,.12,.05,.3,.25,.2,.3,.42,.05,.1,.12,.25,.12,.45,.22,.12,.4,.08,.2,.1,.33,.2,.7,.1,.65,.7,.97,.3,.3,.3,.2,.68,.65,.08,.3,.25,.65,.35,.3,.1,.08,.4,.2,.97,.95,.35,.12,.38,.1,.35,.8,.08,.08,.38,.28,.1,.25,.1,.25,.27],
[.1,.1,.1,.12,.3,.12,.15,.1,.12,.1,.08,.1,.08,.12,.08,.25,.48,.1,.05,.08,.08,.05,.05,.12,.12,.03,.1,.45,.1,.12,.97,.97,.72,.05,.97,.3,.97,.1,.35,.4,.8,.62,.45,.5,.12,.85,.25,.68,.2,.65,.3,.35,.12,.45,.35,.05,.38,.12,.15,.1,.1,.03,.62,.2,.1,.08,.1,.08,.25,.25],
[.12,.08,.08,.12,.05,.15,.4,.05,.08,.1,.05,.1,.05,.05,.12,.08,.05,.1,.1,.1,.05,.05,.3,.3,.97,.1,.2,.2,.2,.82,.08,.45,.97,.25,.9,.7,.55,.12,.97,.42,.2,.75,.1,.08,.5,.45,.38,.32,.68,.35,.3,.1,.5,.05,.1],
[.1,.4,.1,.08,.1,.05,.05,.08,.15,.12,.03,.12,.05,.1,.05,.25,.1,.1,.05,.2,.1,.1,.05,.47,.97,.97,.7,.8,.6,.9,.45,.05,.2,.35,.08,.2,.1,.45,.2,.12,.33,.28,.1,.25,.35,.15,.15,.08,.1,.2,.08,.1,.05,.1,.1],
[.3,.28,.2,.08,.28,.3,.3,.28,.2,.1,.38,.05,.5,.3,.3,.97,.82,.6,.78,.5,.6,.7,.6,.6,.35,.65,.82,.47,.4,.25,.05,.35,.45,.4,.6,.48,.9,.5,.4,.85,.55,.58,.8,.72,.95,.15,.1],
[.1,.3,.25,.2,.15,.2,.05,.25,.2,.25,.25,.3,.1,.2,.3,.08,.2,.1,.25,.08,.97,.25,.45,.7,.45,.45,.4,.9,.12,.48,.35,.95,.8,.65,.25,.47,.3,.2,.3,.25,.38,.25,.58,.3,.15,.3,.65,.4,.1,.3],
[.1,.1,.12,.15,.12,.15,.03,.12,.12,.97,.05,.08,.1,.97,.1,.05,.97,.08,.08,.97,.05,1,.05,.03,1,1,.97,.97,.97,.9,.1,.05,.12,.12,.03,.97,.12,.05,.1,.12,.12,.9,.1,.12,.1,.03,.1,.1,.05,.03,.05],
[.2,.25,.15,.22,.2,.28,.32,.25,.4,.33,.1,.2,.05,.3,.2,.15,.28,.15,.08,.1,.35,.85,.65,.85,.65,.6,.65,.55,.42,.35,.15,.3,.78,.68,.93,.35,.82,.3,.62,.33,.3,.22,.25,.22,.4,.25,.3],
[.1,.1,.1,.08,.08,.05,.08,.03,.05,.15,.3,.03,.03,.05,.05,.15,.1,.6,.2,.42,.2,.2,.9,.05,.15,.4,.12,.12,.1,.1,.1,.12,.12,.08,.05,.33,.1,.08,.08,.05,.1,.1]
];
const denseShapC = [
[-.17,-.15,-.13,-.11,-.09,-.08,-.06,-.05,-.03,-.02,0,-.16,-.14,-.12,-.1,-.08,-.07,-.05,-.04,-.01,-.13,-.09,-.06,-.03,-.01,.02,.06,.1],
[-.14,-.12,-.09,-.08,-.06,-.05,-.04,-.03,-.02,-.01,.01,.02,.03,.05,.06,.08,.1,.12,-.07,-.06,-.05,-.03,-.02,0,.02,.04,.06,.08,.1,-.09,-.06,-.04,-.02,.01,.03,.05,.09,.11],
[-.15,-.13,-.12,-.1,-.09,-.08,-.06,-.05,-.04,-.02,-.01,.01,.02,.04,.05,.07,-.15,-.12,-.1,-.08,-.07,-.05,-.03,-.02,.01,.03,.05,.07,-.12,-.09,-.06,-.03,-.01,.02,.04,.06,.09,.11],
[-.1,-.08,-.07,-.05,-.03,-.02,0,.01,.03,.04,.06,.08,.1,-.12,-.1,-.08,-.06,-.04,-.02,0,.02,.04,.06,.08,-.09,-.07,-.05,-.03,-.01,.02,.05,.07,.1],
[-.09,-.07,-.05,-.04,-.02,-.01,.01,.02,.04,.06,.07,.09,.11,-.08,-.06,-.04,-.02,0,.02,.03,.05,.07,.09,.11,-.12,-.07,-.04,-.01,.02,.04,.07,.1,.12],
[-.1,-.08,-.06,-.05,-.03,-.02,0,.01,.03,.05,.07,-.12,-.09,-.07,-.05,-.03,-.01,.02,.04,.06,.08,-.08,-.06,-.04,-.01,.01,.03,.06],
[-.06,-.05,-.04,-.03,-.02,-.01,0,.01,.02,.03,.04,.05,.06,-.07,-.05,-.03,-.01,.01,.03,-.06,-.04,-.02,0,.02,.04,-.03,-.01,.01,.03,-.12,-.1,.08,.1,.12,.07,.05],
[-.07,-.05,-.04,-.03,-.01,0,.02,.03,-.08,-.06,-.04,-.02,0,.02,.03,.05,-.05,-.03,-.01,.01,.04,-.12,-.14,.06,.08],
[-.12,-.1,-.08,-.07,-.05,-.04,-.02,-.01,.01,.02,.04,.05,.07,-.11,-.09,-.07,-.05,-.03,-.01,.01,.03,.05,.07,.09,-.08,-.06,-.03,-.01,.01,.03,.05,.08,-.02]
];
const denseJitterC = [
[-.2,-.12,-.1,-.2,-.26,-.06,-.14,-.2,-.08,-.16,-.24,.18,.24,.08,.2,.24,.06,.12,.2,.1,.28,.14,.28,.18,.12,.3,.1,.24],
[-.02,.08,-.2,-.14,-.24,-.08,-.2,-.14,-.26,-.08,-.22,-.04,-.2,-.08,-.16,-.18,-.1,-.22,.06,.14,.2,.06,.22,.14,.2,.06,.14,.2,.04,.2,.26,.3,.28,.3,.28,.3,.22,.3],
[-.1,-.14,-.05,-.18,-.08,-.28,-.2,-.08,-.28,-.12,-.22,-.1,-.28,-.14,-.1,-.18,.12,.1,.06,.12,.02,.16,.06,.14,.14,.2,.16,.06,.22,.2,.28,.2,.3,.24,.3,.2,.14,.02],
[-.18,-.28,-.12,-.18,-.3,-.14,-.28,-.2,-.1,-.3,-.18,-.22,-.12,.18,.1,.2,.04,.14,.1,.05,.1,.04,.12,.12,.26,.28,.26,.3,.22,.26,.28,.16,.14],
[-.2,-.3,-.16,-.28,-.2,-.3,-.16,-.32,-.08,-.14,-.25,-.18,-.24,-.02,.02,-.02,.02,.12,.04,-.02,.02,.04,0,.02,.1,.15,.2,.24,.18,.22,.22,.16,.24],
[-.12,-.2,-.12,-.22,-.08,-.24,-.2,-.14,-.2,-.18,-.14,.06,.06,.14,.06,.14,.08,.04,.08,.14,.1,.28,.22,.24,.22,.3,.24,.26],
[-.12,-.22,-.08,-.28,-.14,-.22,-.1,-.3,-.1,-.22,-.08,-.28,-.24,.06,.02,.1,.04,.14,.1,.2,.16,.24,.2,.26,.22,.3,.28,.3,.28,.22,.05,.02,.22,.02,.08,.24],
[-.15,-.18,-.28,-.1,-.2,-.28,-.12,-.28,.04,.1,.12,.06,.16,.16,.18,.2,.24,.3,.28,.3,.3,.08,-.08,.14,-.1],
[-.12,.02,-.14,-.02,-.26,-.12,-.2,-.28,-.14,-.26,-.08,-.24,-.14,.08,.12,.1,.2,.06,.18,.14,.08,.2,.1,.02,.22,.26,.24,.28,.22,.3,.14,.22,.02]
];
const denseFeatureC = [
[.08,.1,.12,.2,.12,.15,.25,.1,.15,.25,.1,.1,.1,.15,.2,.05,.25,.2,.1,.3,.1,.1,.2,.25,.12,.65,.3,.35],
[.15,.12,.05,.08,.05,.05,.08,.05,.1,.08,.95,.85,.3,.35,.2,.3,.3,.4,.05,.05,.08,.05,.08,.95,.3,.2,.25,.35,.35,.08,.1,.08,.1,.3,.35,.35,.2,.15],
[.1,.08,.08,.05,.08,.1,.05,.08,.05,.1,.05,.25,.2,.2,.1,.15,.12,.1,.05,.08,.05,.08,.05,.1,.25,.1,.15,.1,.08,.05,.08,.1,.08,.2,.15,.1,.2,.12],
[.05,.08,.05,.1,.05,.1,.08,.15,.1,.2,.15,.05,.1,.05,.08,.05,.1,.05,.1,.08,.95,.2,.15,.1,.1,.1,.08,.05,.1,.4,.1,.2,.1],
[.1,.1,.12,.05,.25,.05,.3,.45,.45,.55,.7,.55,.65,.25,.1,.3,.2,.35,.45,.55,.6,.65,.6,.5,.25,.2,.35,.4,.45,.5,.55,.6,.45],
[.2,.25,.1,.25,.3,.15,.1,.4,.45,.42,.4,.2,.15,.25,.2,.1,.25,.3,.4,.45,.35,.2,.15,.08,.3,.45,.55,.25],
[.05,.03,.05,.05,.05,.08,.03,.97,.1,.97,.05,1,1,.05,.05,.03,.05,.9,.05,.05,.05,.03,.05,.03,.05,.08,.05,.05,.1,.05,.1,.1,.1,.1,.05,.97],
[.2,.15,.2,.25,.1,.15,.5,.55,.15,.1,.2,.15,.3,.35,.4,.2,.25,.35,.3,.35,.2,.2,.2,.25,.5],
[.05,.08,.03,.05,.1,.03,.05,.1,.05,.12,.08,.15,.1,.05,.03,.05,.03,.05,.03,.05,.08,.05,.1,.1,.05,.08,.05,.03,.1,.1,.15,.1,.03]
];

// ---------- Colour bar data ----------
const colorbarTicks = [0,0.2,0.4,0.6,0.8,1];
const coolwarmStops = [[0,59,76,192],[0.125,98,130,234],[0.25,141,176,254],[0.375,192,212,245],[0.5,221,220,220],[0.625,245,196,173],[0.75,244,152,122],[0.875,222,96,77],[1,180,4,38]];

// ---------- Label fitted widths (reference font metrics) ----------
const labelWidths = {
 "Parent total problems syndrome score":765,"Parent anxiety syndrome score":619,"Ever received MH/SU services":590,
 "Youth\u2019s race: White":391,"Family as referent scale score":591,"Total sleep disturbance syndrome score":799,
 "Parent depressive problem syndrome score":872,"Parent and youth get along very well":747,"Parent general behavior score":614,
 "Total disorder of initiating and maintaining":844,"sleep score":227,"Total disorder of excessive somnolence syndrome":996,
 "score":109,"Parent aggressive behavior syndrome score":880,"Parent ADHD problem syndrome score":777
};

const SVGNS = "http://www.w3.org/2000/svg";
const svg = document.getElementById("chart");
const PLOT_LEFT = 1191, PLOT_RIGHT = 2272, PLOT_H = 736;

function mk(tag, attrs, parent, txt){
  const el = document.createElementNS(SVGNS, tag);
  for (const k in attrs) el.setAttribute(k, attrs[k]);
  if (txt !== undefined) el.textContent = txt;
  (parent || svg).appendChild(el);
  return el;
}
function coolwarm(t){
  t = Math.max(0, Math.min(1, t));
  for (let i = 1; i < coolwarmStops.length; i++){
    const a = coolwarmStops[i-1], b = coolwarmStops[i];
    if (t <= b[0]){
      const f = (t - a[0]) / (b[0] - a[0]);
      return "rgb(" + [1,2,3].map(function(k){ return Math.round(a[k] + (b[k]-a[k])*f); }).join(",") + ")";
    }
  }
  return "rgb(180,4,38)";
}
function fmt(v){ return (v < 0 ? "\u2212" : "") + Math.abs(v).toFixed(1); }

function drawPoints(parent, xScale, yScale, shap, jitter, feature){
  shap.forEach(function(row, r){
    const m = Math.min(row.length, jitter[r].length, feature[r].length);
    for (let i = 0; i < m; i++){
      const c = mk("circle", {cx:xScale(row[i]), cy:yScale(r + jitter[r][i]), r:10.5, fill:coolwarm(feature[r][i]), "fill-opacity":0.72, stroke:"#222", "stroke-opacity":0.72, "stroke-width":2.2}, parent);
      
      
    }
  });
}

function drawPanel(id, top, categories, ticks, domain, shap, jitter, feature, dShap, dJitter, dFeature){
  const bottom = top + PLOT_H;
  const n = categories.length;
  const step = PLOT_H / n;
  const xScale = function(v){ return PLOT_LEFT + (v - domain[0]) / (domain[1] - domain[0]) * (PLOT_RIGHT - PLOT_LEFT); };
  const yScale = function(c){ return top + (c + 0.5) * step; };

  const g = mk("g", {}, svg);
  
  

  // grid lines and x ticks
  ticks.forEach(function(t){
    const x = xScale(t);
    const gl = mk("line", {x1:x, x2:x, y1:top, y2:bottom, stroke:"#d3d3d3", "stroke-width":3, "stroke-dasharray":"14 6"}, g);
    
    
    const tk = mk("line", {x1:x, x2:x, y1:bottom, y2:bottom + 16, stroke:"#000", "stroke-width":3}, g);
    
    
    const s = fmt(t);
    const lbl = mk("text", {x:x, y:bottom + 61, "font-size":44, "text-anchor":"middle", textLength:(t < 0 ? 80 : 55), lengthAdjust:"spacingAndGlyphs"}, g, s);
    
    
  });

  // points: dense core first, individually resolved points on top
  const clipId = "clip-" + id;
  const cp = mk("clipPath", {id:clipId}, g);
  mk("rect", {x:PLOT_LEFT, y:top, width:PLOT_RIGHT - PLOT_LEFT, height:PLOT_H}, cp);
  const pts = mk("g", {"clip-path":"url(#" + clipId + ")"}, g);
  
  
  drawPoints(pts, xScale, yScale, dShap, dJitter, dFeature);
  drawPoints(pts, xScale, yScale, shap, jitter, feature);

  // y ticks and labels
  categories.forEach(function(cat, r){
    const y = yScale(r);
    const tk = mk("line", {x1:PLOT_LEFT - 16, x2:PLOT_LEFT, y1:y, y2:y, stroke:"#000", "stroke-width":3}, g);
    
    
    const lines = cat.split("|");
    lines.forEach(function(line, li){
      const by = lines.length === 1 ? y + 15 : y - 3 + li * 31;
      const t = mk("text", {x:1133, y:by, "font-size":41, "text-anchor":"end", textLength:labelWidths[line], lengthAdjust:"spacingAndGlyphs"}, g, line);
      
      
    });
  });

  // frame
  const fr = mk("rect", {x:PLOT_LEFT, y:top, width:PLOT_RIGHT - PLOT_LEFT, height:PLOT_H, fill:"none", stroke:"#000", "stroke-width":3.5}, g);
  
  

  // titles
  const xt = mk("text", {x:1731, y:bottom + 121, "font-size":48, "text-anchor":"middle", textLength:291, lengthAdjust:"spacingAndGlyphs"}, g, "SHAP values");
  
  
  const yc = top + PLOT_H / 2 + 5;
  const yt = mk("text", {x:46, y:yc, "font-size":64, "text-anchor":"middle", textLength:253, lengthAdjust:"spacingAndGlyphs", transform:"rotate(-90 46 " + yc + ")"}, g, "Features");
  
  
}

drawPanel("a", 43, categoriesA, ticksA, domainA, shapA, jitterA, featureA, denseShapA, denseJitterA, denseFeatureA);
drawPanel("b", 948, categoriesB, ticksB, domainB, shapB, jitterB, featureB, denseShapB, denseJitterB, denseFeatureB);
drawPanel("c", 1854, categoriesC, ticksC, domainC, shapC, jitterC, featureC, denseShapC, denseJitterC, denseFeatureC);

// colour bar
(function(){
  const L = 1190, R = 2272, T = 2771, B = 2799;
  const cbScale = function(v){ return L + v * (R - L); };
  const g = mk("g", {}, svg);
  
  
  const defs = mk("defs", {}, g);
  const grad = mk("linearGradient", {id:"cw", x1:0, x2:1, y1:0, y2:0}, defs);
  coolwarmStops.forEach(function(s){
    mk("stop", {offset:s[0], "stop-color":"rgb(" + s[1] + "," + s[2] + "," + s[3] + ")"}, grad);
  });
  const bar = mk("rect", {x:L, y:T, width:R - L, height:B - T, fill:"url(#cw)", stroke:"#000", "stroke-width":3.5}, g);
  
  
  colorbarTicks.forEach(function(t){
    const x = cbScale(t);
    const tk = mk("line", {x1:x, x2:x, y1:B, y2:B + 15, stroke:"#000", "stroke-width":3}, g);
    
    
    const lb = mk("text", {x:x, y:2859, "font-size":44, "text-anchor":"middle", textLength:56, lengthAdjust:"spacingAndGlyphs"}, g, t.toFixed(1));
    
    
  });
  const title = mk("text", {x:1729, y:2928, "font-size":57, "text-anchor":"middle", textLength:1036, lengthAdjust:"spacingAndGlyphs"}, g, "Feature values (min-max normalized)");
  
  
})();
</script>
</body>
</html>
